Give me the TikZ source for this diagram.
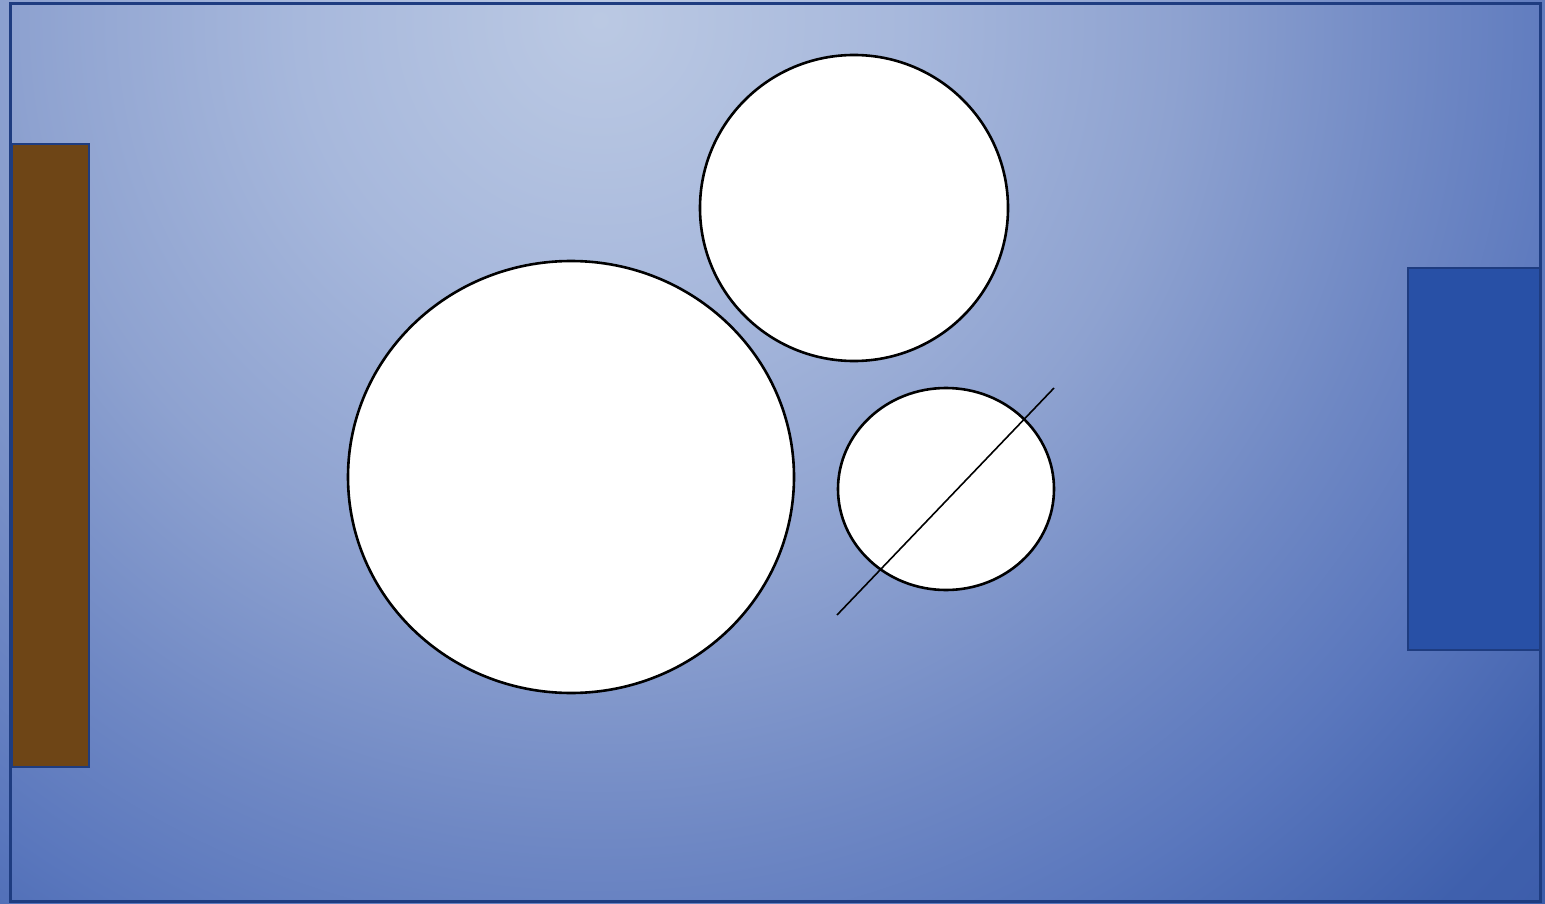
\documentclass[tikz,border=0pt]{standalone}
\definecolor{bgA}{HTML}{BBC9E3}
\definecolor{bgA2}{HTML}{A7B8DC}
\definecolor{bgB}{HTML}{8EA2D0}
\definecolor{bgC}{HTML}{6F88C4}
\definecolor{bgC2}{HTML}{5A77BD}
\definecolor{bgD}{HTML}{3F60AD}
\definecolor{bgE}{HTML}{3A5AA8}
\definecolor{frameblue}{HTML}{1E3C80}
\definecolor{brownfill}{HTML}{6E4516}
\definecolor{bluefill}{HTML}{2850A6}
\pgfdeclareradialshading{bgshade}{\pgfpoint{0bp}{0bp}}{color(0bp)=(bgA); color(5.4bp)=(bgA2); color(10.3bp)=(bgB); color(14.7bp)=(bgC); color(17.9bp)=(bgC2); color(21.8bp)=(bgD); color(25bp)=(bgE); color(50bp)=(bgE)}
\tikzset{
  frame/.style={draw=frameblue, line width=3pt},
  panel/.style={draw=frameblue, line width=2.8pt},
  disc/.style={draw=black, fill=white, line width=2.6pt},
}
\begin{document}
\begin{tikzpicture}[x=1pt,y=-1pt]
\useasboundingbox (0,0) rectangle (1545,904);
\begin{scope}
  \clip (0,0) rectangle (1545,904);
  \shade[shading=bgshade] (600,20) circle (1400);
\end{scope}
\draw[frame] (10,4) rectangle (1540,901);
\draw[panel, fill=brownfill] (12,144) rectangle (89,767);
\draw[panel, fill=bluefill] (1408,268) rectangle (1540,650);
\draw[disc] (571,477) ellipse [x radius=223, y radius=216];
\draw[disc] (854,208) ellipse [x radius=154, y radius=153];
\draw[disc] (946,489) ellipse [x radius=108, y radius=101];
\coordinate (la) at (837,615);
\coordinate (lb) at (1054,388);
\draw[black, line width=1.6pt] (la) -- (lb);
\end{tikzpicture}
\end{document}
